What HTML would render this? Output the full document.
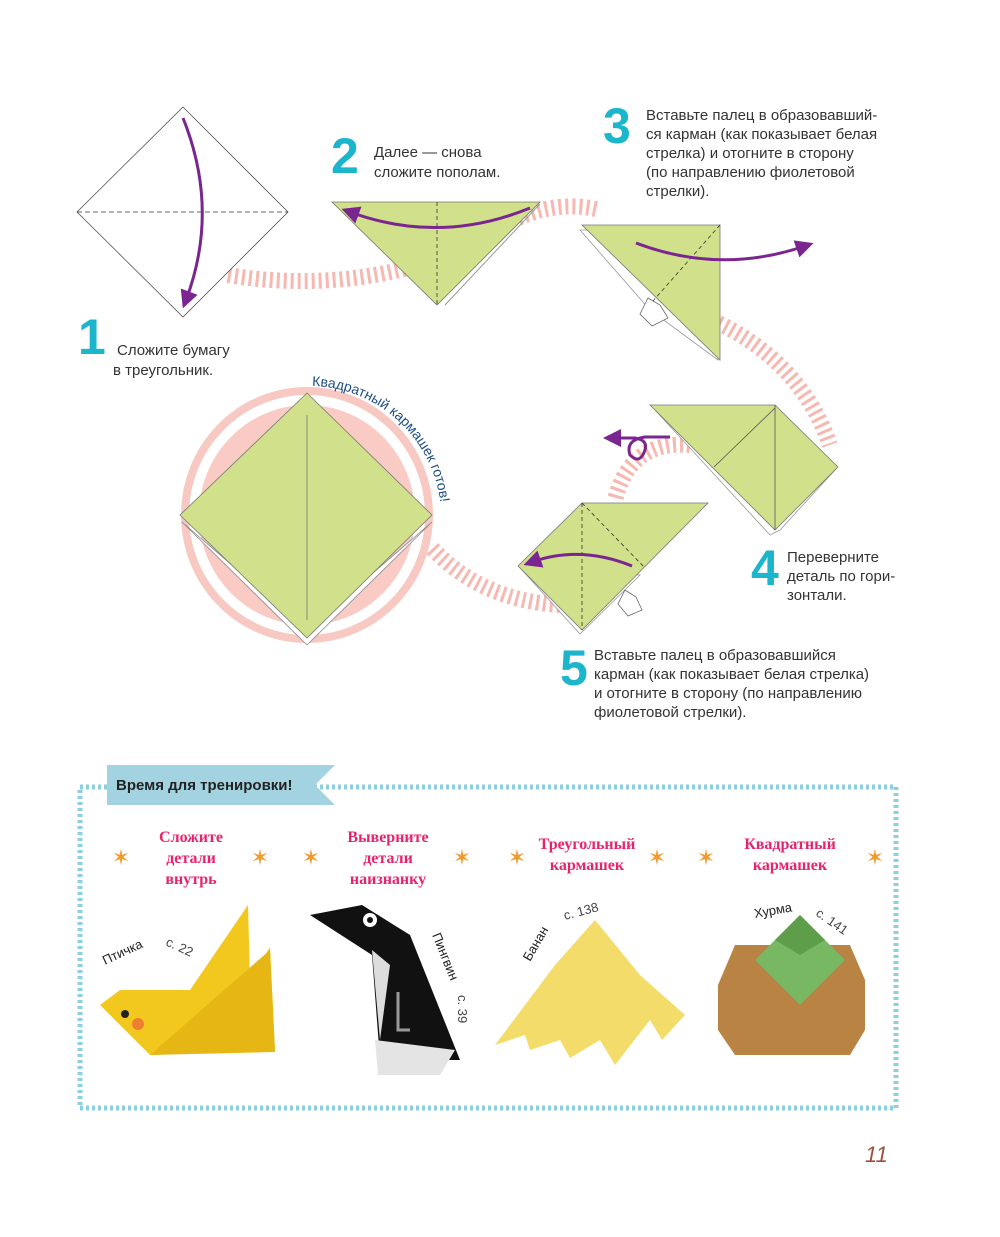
<!DOCTYPE html>
<html><head><meta charset="utf-8"><style>
body{margin:0;background:#fff;}
svg{display:block;font-family:"Liberation Sans",sans-serif;}
.t{font-size:15px;fill:#333;}
.n{font-size:50px;font-weight:bold;fill:#1bb6cc;}
.p{font-size:16px;font-weight:bold;fill:#e8236e;font-family:"Liberation Serif",serif;}
</style></head><body>
<svg width="1000" height="1237" viewBox="0 0 1000 1237">
<defs>
<marker id="ah" markerWidth="6" markerHeight="6" refX="3" refY="3" orient="auto"><path d="M0,0 L6,3 L0,6 z" fill="#7a2590"/></marker>
</defs>
<g fill="none" stroke="#f6b8b0" stroke-width="16" stroke-dasharray="3 4">
<path d="M228,275 Q320,290 408,268"/>
<path d="M518,218 Q560,200 600,210"/>
<path d="M712,320 Q800,360 830,445"/>
<path d="M690,445 Q630,440 615,500"/>
<path d="M560,605 Q480,600 432,548"/>
</g>
<polygon points="183,107 288,212 183,317 77,212" fill="#fff" stroke="#555" stroke-width="0.8"/>
<line x1="77" y1="212" x2="288" y2="212" stroke="#333" stroke-dasharray="5 3" stroke-width="0.8"/>
<path d="M183,118 Q220,210 186,300" fill="none" stroke="#7a2590" stroke-width="3" marker-end="url(#ah)"/>
<text x="78" y="354" class="n">1</text>
<text x="117" y="355" class="t">Сложите бумагу</text>
<text x="113" y="375" class="t">в треугольник.</text>
<polyline points="540,204 445,305" stroke="#999" fill="none"/>
<polygon points="332,202 540,202 437,305" fill="#d1e08a" stroke="#777" stroke-width="0.8"/>
<line x1="437" y1="202" x2="437" y2="305" stroke="#333" stroke-dasharray="4 3" stroke-width="0.8"/>
<path d="M530,208 Q440,245 350,212" fill="none" stroke="#7a2590" stroke-width="3" marker-end="url(#ah)"/>
<text x="331" y="173" class="n">2</text>
<text x="374" y="157" class="t">Далее — снова</text>
<text x="374" y="177" class="t">сложите пополам.</text>
<polygon points="580,230 712,230 718,360 650,310" fill="#fff" stroke="#999" stroke-width="0.8"/>
<polygon points="582,225 720,225 720,360" fill="#d1e08a" stroke="#777" stroke-width="0.8"/>
<line x1="720" y1="225" x2="645" y2="310" stroke="#333" stroke-dasharray="4 3" stroke-width="0.8"/>
<polygon points="648,298 660,305 668,318 652,326 640,314" fill="#fff" stroke="#666" stroke-width="0.8"/>
<path d="M636,243 Q720,275 805,246" fill="none" stroke="#7a2590" stroke-width="3" marker-end="url(#ah)"/>
<text x="603" y="143" class="n">3</text>
<text x="646" y="120" class="t">Вставьте палец в образовавший-</text>
<text x="646" y="139" class="t">ся карман (как показывает белая</text>
<text x="646" y="158" class="t">стрелка) и отогните в сторону</text>
<text x="646" y="177" class="t">(по направлению фиолетовой</text>
<text x="646" y="196" class="t">стрелки).</text>
<polygon points="655,410 770,535 780,530 835,470" fill="#fff" stroke="#999" stroke-width="0.8"/>
<polygon points="650,405 775,405 838,467 775,530" fill="#d1e08a" stroke="#777" stroke-width="0.8"/>
<line x1="775" y1="405" x2="775" y2="530" stroke="#555" stroke-width="0.8"/>
<line x1="775" y1="408" x2="714" y2="467" stroke="#555" stroke-width="0.8"/>
<path d="M670,437 L645,437 Q625,440 630,455 Q640,465 645,450 Q648,440 635,438 L612,438" fill="none" stroke="#7a2590" stroke-width="3" marker-end="url(#ah)"/>
<text x="751" y="585" class="n">4</text>
<text x="787" y="562" class="t">Переверните</text>
<text x="787" y="581" class="t">деталь по гори-</text>
<text x="787" y="600" class="t">зонтали.</text>
<polygon points="522,570 580,634 640,575" fill="#fff" stroke="#999" stroke-width="0.8"/>
<polygon points="582,503 708,503 582,630 518,566" fill="#d1e08a" stroke="#777" stroke-width="0.8"/>
<line x1="582" y1="503" x2="582" y2="630" stroke="#333" stroke-dasharray="4 3" stroke-width="0.8"/>
<line x1="582" y1="503" x2="645" y2="568" stroke="#333" stroke-dasharray="4 3" stroke-width="0.8"/>
<polygon points="625,590 636,597 642,610 628,616 618,604" fill="#fff" stroke="#666" stroke-width="0.8"/>
<path d="M632,566 Q580,545 532,562" fill="none" stroke="#7a2590" stroke-width="3" marker-end="url(#ah)"/>
<text x="560" y="685" class="n">5</text>
<text x="594" y="660" class="t">Вставьте палец в образовавшийся</text>
<text x="594" y="679" class="t">карман (как показывает белая стрелка)</text>
<text x="594" y="698" class="t">и отогните в сторону (по направлению</text>
<text x="594" y="717" class="t">фиолетовой стрелки).</text>
<ellipse cx="307" cy="515" rx="122" ry="124" fill="none" stroke="#f8c9c2" stroke-width="8"/>
<ellipse cx="307" cy="515" rx="108" ry="110" fill="#f9cbc4"/>
<polygon points="182,522 307,645 432,522 307,630" fill="#fff" stroke="#888" stroke-width="0.8"/>
<polygon points="307,393 432,515 307,638 180,515" fill="#d1e08a" stroke="#777" stroke-width="0.8"/>
<line x1="307" y1="415" x2="307" y2="620" stroke="#777" stroke-width="0.8"/>
<path id="arc" d="M312,386 A132,134 0 0 1 440,540" fill="none"/>
<text font-size="14" fill="#1f4e86"><textPath href="#arc">Квадратный кармашек готов!</textPath></text>
<rect x="80" y="787" width="816" height="321" fill="none" stroke="#8ccfe2" stroke-width="5" stroke-dasharray="3 3"/>
<polygon points="107,765 335,765 315,785 335,805 107,805" fill="#a3d3e0"/>
<text x="116" y="790" font-size="15" font-weight="bold" fill="#222">Время для тренировки!</text>
<g text-anchor="middle">
<text x="191" y="842" class="p">Сложите</text><text x="191" y="863" class="p">детали</text><text x="191" y="884" class="p">внутрь</text>
<text x="388" y="842" class="p">Выверните</text><text x="388" y="863" class="p">детали</text><text x="388" y="884" class="p">наизнанку</text>
<text x="587" y="849" class="p">Треугольный</text><text x="587" y="870" class="p">кармашек</text>
<text x="790" y="849" class="p">Квадратный</text><text x="790" y="870" class="p">кармашек</text>
</g>
<g fill="#f29a2e" font-size="22" text-anchor="middle">
<text x="121" y="865">✶</text><text x="260" y="865">✶</text><text x="311" y="865">✶</text><text x="462" y="865">✶</text>
<text x="517" y="865">✶</text><text x="657" y="865">✶</text><text x="706" y="865">✶</text><text x="875" y="865">✶</text>
</g>
<polygon points="100,1005 120,990 190,990 248,905 250,980 270,947 275,1050 150,1055" fill="#f2c81e"/>
<polygon points="150,1055 270,950 275,1052" fill="#e6b614"/>
<circle cx="125" cy="1014" r="4" fill="#222"/><circle cx="138" cy="1024" r="6" fill="#ee7f32"/>
<text x="105" y="965" font-size="13" fill="#222" transform="rotate(-25 105 965)">Птичка</text>
<text x="165" y="945" font-size="13" fill="#444" transform="rotate(25 165 945)">с. 22</text>
<polygon points="310,915 362,905 410,935 460,1060 380,1060 372,955" fill="#111"/>
<polygon points="372,950 390,965 380,1040" fill="#ddd"/>
<polygon points="375,1040 455,1050 440,1075 378,1075" fill="#e4e4e4"/>
<circle cx="370" cy="920" r="7" fill="#fff"/><circle cx="370" cy="920" r="3" fill="#111"/>
<path d="M398,992 L398,1030 L410,1030" fill="none" stroke="#999" stroke-width="3"/>
<text x="432" y="935" font-size="13" fill="#222" transform="rotate(68 432 935)">Пингвин</text>
<text x="458" y="995" font-size="13" fill="#444" transform="rotate(90 458 995)">с. 39</text>
<polygon points="595,920 640,975 685,1015 662,1040 650,1020 615,1065 600,1040 570,1058 560,1040 530,1050 525,1035 495,1045 555,965" fill="#f4dc6a"/>
<text x="530" y="962" font-size="13" fill="#222" transform="rotate(-60 530 962)">Банан</text>
<text x="565" y="920" font-size="13" fill="#444" transform="rotate(-15 565 920)">с. 138</text>
<polygon points="735,945 850,945 865,980 865,1030 850,1055 735,1055 718,1030 718,985" fill="#b98344"/>
<polygon points="800,915 830,945 845,960 800,1005 755,960 770,945" fill="#78b863"/>
<polygon points="800,915 825,940 800,955 775,940" fill="#5e9e4b"/>
<text x="755" y="918" font-size="13" fill="#222" transform="rotate(-10 755 918)">Хурма</text>
<text x="815" y="915" font-size="13" fill="#444" transform="rotate(35 815 915)">с. 141</text>
<text x="865" y="1162" font-size="22" font-style="italic" fill="#a0503a">11</text>
</svg>
</body></html>
